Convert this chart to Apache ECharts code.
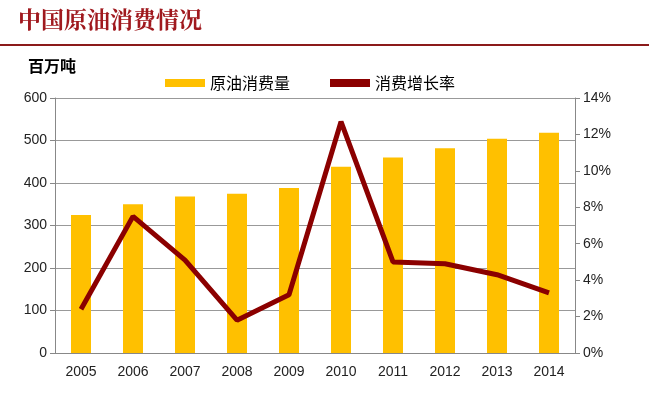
<!DOCTYPE html>
<html><head><meta charset="utf-8">
<script src="https://cdn.jsdelivr.net/npm/echarts@6/dist/echarts.min.js"></script>
<style>body{margin:0;background:#fff}#c{width:649px;height:403px}</style>
</head><body><div id="c"></div>
<script>
const years = ['2005','2006','2007','2008','2009','2010','2011','2012','2013','2014'];
const consumption = [325, 350, 368, 375, 388, 438, 460, 482, 504, 518];
const growth = [2.4, 7.5, 5.1, 1.8, 3.2, 12.7, 5.0, 4.9, 4.3, 3.3];
const chart = echarts.init(document.getElementById('c'));
chart.setOption({
  animation: false,
  graphic: [
    {type:'text', left:18, top:8, style:{text:'中国原油消费情况', font:'bold 23px "Noto Serif CJK SC","Noto Sans CJK SC"', fill:'#a0191e'}},
    {type:'rect', shape:{x:0,y:44,width:649,height:2}, style:{fill:'#8b1a1a'}},
    {type:'text', left:28, top:58, style:{text:'百万吨', font:'bold 16px "Noto Sans CJK SC"', fill:'#000'}}
  ],
  legend: {
    top: 70, left: 160, itemGap: 40, itemWidth: 40, itemHeight: 8,
    textStyle: {fontSize: 16, color: '#000', fontFamily: '"Noto Sans CJK SC"'},
    data: [{name:'原油消费量', icon:'rect'}, {name:'消费增长率', icon:'rect'}]
  },
  grid: {left: 55, right: 74, top: 98, bottom: 50},
  xAxis: {
    type: 'category', data: years,
    axisLine: {lineStyle: {color: '#888'}},
    axisTick: {lineStyle: {color: '#888'}},
    axisLabel: {color: '#222', fontSize: 14, margin: 12}
  },
  yAxis: [
    {type: 'value', min: 0, max: 600, interval: 100,
     axisLine: {show: true, lineStyle: {color: '#888'}}, axisTick: {show: true},
     axisLabel: {color: '#222', fontSize: 14},
     splitLine: {lineStyle: {color: '#999'}}},
    {type: 'value', min: 0, max: 14, interval: 2,
     axisLine: {show: true, lineStyle: {color: '#888'}}, axisTick: {show: true},
     axisLabel: {color: '#222', fontSize: 14, formatter: '{value}%'},
     splitLine: {show: false}}
  ],
  series: [
    {name: '原油消费量', type: 'bar', data: consumption, barWidth: 20,
     itemStyle: {color: '#ffc000'}},
    {name: '消费增长率', type: 'line', yAxisIndex: 1, data: growth,
     symbol: 'none', lineStyle: {color: '#8b0000', width: 5}, itemStyle: {color: '#8b0000'}}
  ]
});
</script></body></html>
